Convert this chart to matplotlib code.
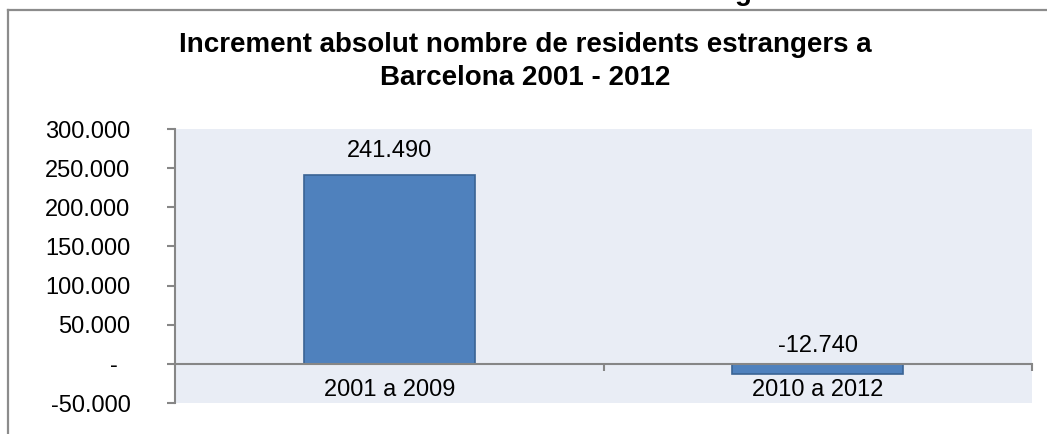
import matplotlib
matplotlib.use("Agg")
import matplotlib.pyplot as plt
from matplotlib.lines import Line2D
from matplotlib.ticker import FixedLocator, FuncFormatter

categories = ["2001 a 2009", "2010 a 2012"]
values = [241490, -12740]
value_labels = ["241.490", "-12.740"]
yticks = [-50000, 0, 50000, 100000, 150000, 200000, 250000, 300000]
title = "Increment absolut nombre de residents estrangers a\nBarcelona 2001 - 2012"

plt.rcParams['font.family'] = ['Liberation Sans', 'DejaVu Sans']

W, H = 1047, 434
fig = plt.figure(figsize=(W / 100, H / 100), dpi=100)
ax = fig.add_axes([175 / W, 1 - 403 / H, (1032 - 175) / W, (403 - 129) / H])

grey = "#868686"
ax.set_facecolor("#E9EDF5")
x = list(range(len(categories)))
ax.bar(x, values, width=0.4, color="#4F81BD", edgecolor="#3A6494", linewidth=1.2, zorder=3)

ax.set_xlim(-0.5, len(categories) - 0.5)
ax.set_ylim(-50000, 300000)

for s in ["top", "right"]:
    ax.spines[s].set_visible(False)
ax.spines["left"].set_color(grey)
ax.spines["left"].set_linewidth(1.5)
ax.spines["bottom"].set_position(("data", 0))
ax.spines["bottom"].set_color(grey)
ax.spines["bottom"].set_linewidth(1.5)
ax.spines["bottom"].set_zorder(4)

def yfmt(v, pos):
    if v == 0:
        return "-\u00a0\u00a0"
    return f"{int(v):,}".replace(",", ".")

ax.yaxis.set_major_locator(FixedLocator(yticks))
ax.yaxis.set_major_formatter(FuncFormatter(yfmt))
ax.tick_params(axis="y", direction="out", length=6, width=1.5, color=grey,
               labelsize=17, pad=26, labelcolor="black")

ax.set_xticks(x)
ax.set_xticklabels(categories)
ax.tick_params(axis="x", which="major", length=0, labelsize=17, pad=11, labelcolor="black")
ax.xaxis.set_minor_locator(FixedLocator([0.5, 1.5]))
ax.tick_params(axis="x", which="minor", direction="out", length=5, width=1.5, color=grey)

for xi, v, lab in zip(x, values, value_labels):
    top = max(v, 0)
    off = 9 if v >= 0 else 5
    ax.annotate(lab, (xi, top), xytext=(0, off), textcoords="offset points",
                ha="center", va="bottom", fontsize=17, color="black")

fig.text(525 / W, 1 - 32 / H, title, ha="center", va="top", fontsize=20,
         fontweight="bold", linespacing=1.35)

# cut-off text of a neighbouring chart at the top edge (only its descender shows)
fig.text(743 / W, 1 + 0.5 / H, "g", ha="center", va="baseline", fontsize=20,
         fontweight="bold")

# chart frame (top and left edges)
fig.add_artist(Line2D([8 / W, 1], [1 - 10 / H, 1 - 10 / H], color="#8C8C8C", lw=1.6,
                      transform=fig.transFigure))
fig.add_artist(Line2D([8 / W, 8 / W], [0, 1 - 10 / H], color="#8C8C8C", lw=1.6,
                      transform=fig.transFigure))

fig.savefig("out.png", dpi=100, facecolor="white")
